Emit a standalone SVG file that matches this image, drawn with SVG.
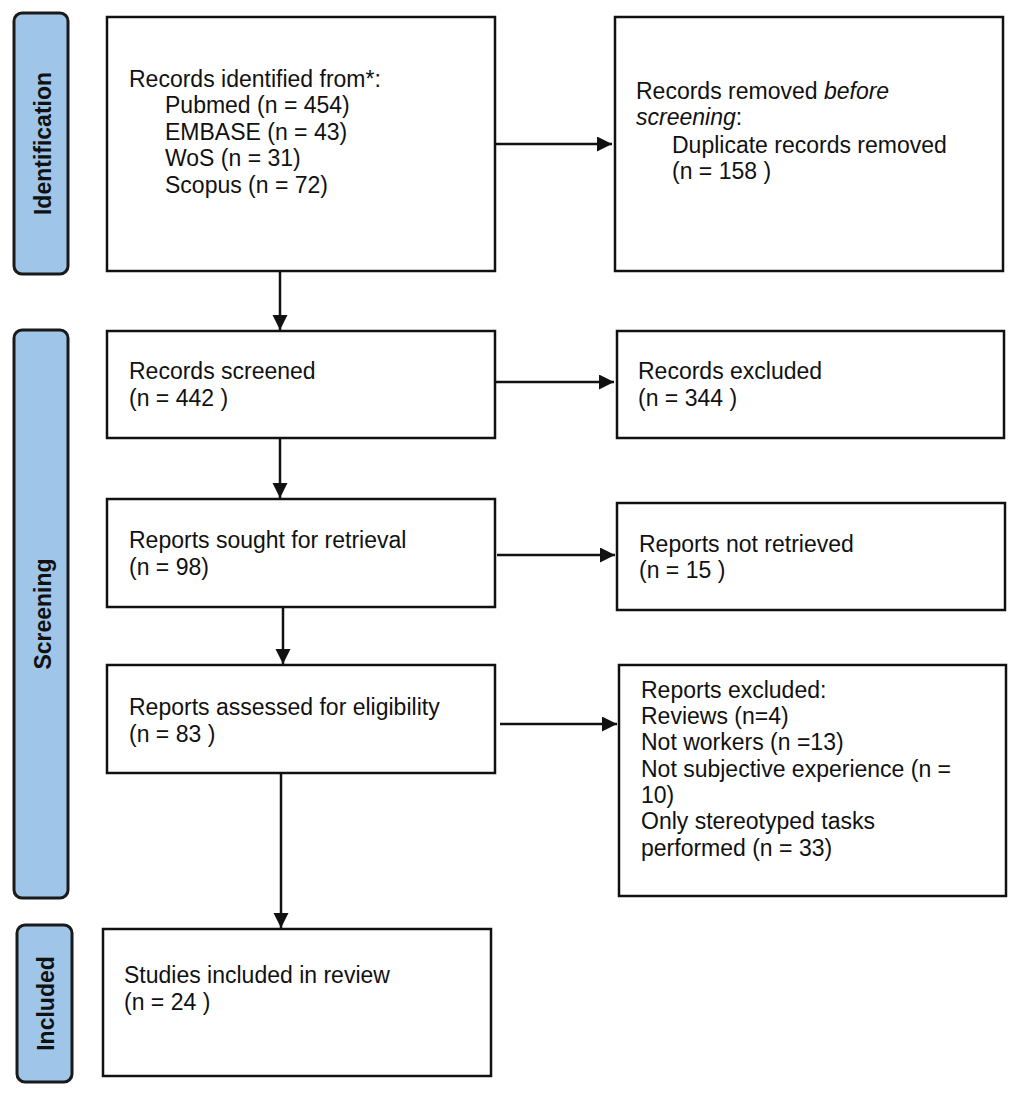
<svg xmlns="http://www.w3.org/2000/svg" width="1021" height="1097" viewBox="0 0 1021 1097">
<style>
.box{fill:#fff;stroke:#111;stroke-width:2.5}
.bar{fill:#9fc5e8;stroke:#1a1a1a;stroke-width:3}
.t{font-family:"Liberation Sans",Arial,sans-serif;font-size:23px;fill:#111}
.lab{font-family:"Liberation Sans",Arial,sans-serif;font-size:23px;font-weight:bold;fill:#111;text-anchor:middle}
.c{stroke:#111;stroke-width:2.5;fill:none;marker-end:url(#ah)}
</style>
<defs>
<marker id="ah" markerUnits="userSpaceOnUse" markerWidth="17" markerHeight="16" refX="15" refY="7.5" orient="auto">
<path d="M0,0 L15,7.5 L0,15 z" fill="#111"/>
</marker>
</defs>
<rect width="1021" height="1097" fill="#fff"/>
<g id="phase-identification">
<rect class="bar" x="14" y="13" width="54" height="261" rx="8"/>
<text class="lab" transform="translate(51,143.5) rotate(-90)">Identification</text>
</g>
<g id="phase-screening">
<rect class="bar" x="14" y="330" width="54" height="568" rx="8"/>
<text class="lab" transform="translate(51,614) rotate(-90)">Screening</text>
</g>
<g id="phase-included">
<rect class="bar" x="17" y="925" width="55" height="157" rx="8"/>
<text class="lab" transform="translate(54,1003.5) rotate(-90)">Included</text>
</g>
<g id="connectors">
<line class="c" x1="495" y1="144" x2="612" y2="144"/>
<line class="c" x1="280" y1="271" x2="280" y2="330"/>
<line class="c" x1="495" y1="382" x2="614" y2="382"/>
<line class="c" x1="280" y1="438" x2="280" y2="498"/>
<line class="c" x1="497" y1="555" x2="615" y2="555"/>
<line class="c" x1="283" y1="607" x2="283" y2="664"/>
<line class="c" x1="500" y1="724" x2="617" y2="724"/>
<line class="c" x1="281" y1="773" x2="281" y2="928"/>
</g>
<g id="identified">
<rect class="box" x="107" y="17" width="388" height="254"/>
<text class="t" x="129" y="87">Records identified from*:</text>
<text class="t" x="165" y="113">Pubmed (n = 454)</text>
<text class="t" x="165" y="140">EMBASE (n = 43)</text>
<text class="t" x="165" y="166">WoS (n = 31)</text>
<text class="t" x="165" y="193">Scopus (n = 72)</text>
</g>
<g id="removed">
<rect class="box" x="615" y="17" width="388" height="254"/>
<text class="t" x="636" y="99">Records removed <tspan font-style="italic">before</tspan></text>
<text class="t" x="636" y="125"><tspan font-style="italic">screening</tspan>:</text>
<text class="t" x="672" y="153">Duplicate records removed</text>
<text class="t" x="672" y="179">(n = 158 )</text>
</g>
<g id="screened">
<rect class="box" x="107" y="331" width="388" height="107"/>
<text class="t" x="129" y="379">Records screened</text>
<text class="t" x="129" y="406">(n = 442 )</text>
</g>
<g id="excluded">
<rect class="box" x="617" y="331" width="387" height="107"/>
<text class="t" x="638" y="379">Records excluded</text>
<text class="t" x="638" y="406">(n = 344 )</text>
</g>
<g id="sought">
<rect class="box" x="107" y="499" width="388" height="108"/>
<text class="t" x="129" y="548">Reports sought for retrieval</text>
<text class="t" x="129" y="575">(n = 98)</text>
</g>
<g id="not-retrieved">
<rect class="box" x="617" y="503" width="388" height="107"/>
<text class="t" x="639" y="552">Reports not retrieved</text>
<text class="t" x="639" y="578">(n = 15 )</text>
</g>
<g id="assessed">
<rect class="box" x="107" y="665" width="388" height="108"/>
<text class="t" x="129" y="715">Reports assessed for eligibility</text>
<text class="t" x="129" y="742">(n = 83 )</text>
</g>
<g id="reports-excluded">
<rect class="box" x="619" y="665" width="387" height="231"/>
<text class="t" x="641" y="698">Reports excluded:</text>
<text class="t" x="641" y="724">Reviews (n=4)</text>
<text class="t" x="641" y="750">Not workers (n =13)</text>
<text class="t" x="641" y="777">Not subjective experience (n =</text>
<text class="t" x="641" y="803">10)</text>
<text class="t" x="641" y="829">Only stereotyped tasks</text>
<text class="t" x="641" y="856">performed (n = 33)</text>
</g>
<g id="included">
<rect class="box" x="103" y="929" width="388" height="147"/>
<text class="t" x="124" y="983">Studies included in review</text>
<text class="t" x="124" y="1010">(n = 24 )</text>
</g>
</svg>
